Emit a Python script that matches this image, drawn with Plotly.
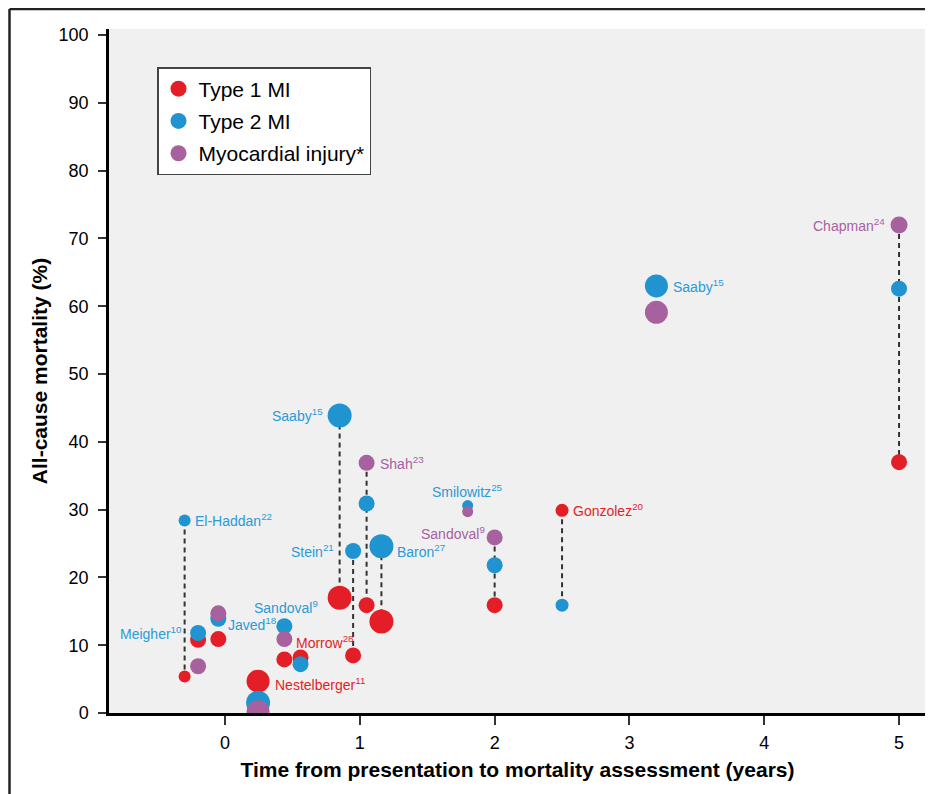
import plotly.graph_objects as go

# ---- data ----
t1_x = [-0.30, -0.20, -0.05, 0.245, 0.44, 0.56, 0.85, 0.95, 1.05, 1.16, 2.0, 2.5, 5.0]
t1_y = [5.4, 10.8, 10.9, 4.7, 7.9, 8.2, 17.0, 8.5, 15.9, 13.5, 15.9, 29.9, 37.0]
t1_s = [12, 16, 16, 23, 16, 16, 24, 16, 16, 24, 16, 13, 16]

t2_x = [-0.30, -0.20, -0.05, 0.245, 0.44, 0.56, 0.85, 0.95, 1.05, 1.16, 1.8, 2.0, 2.5, 3.2, 5.0]
t2_y = [28.4, 11.8, 13.9, 1.5, 12.8, 7.2, 43.9, 23.9, 30.9, 24.6, 30.6, 21.8, 15.9, 63.0, 62.6]
t2_s = [12, 16, 16, 24, 16, 16, 24, 16, 16, 24, 11, 16, 13, 23, 16]

mi_x = [-0.20, -0.05, 0.245, 0.44, 1.05, 1.8, 2.0, 3.2, 5.0]
mi_y = [6.9, 14.7, 0.2, 10.9, 36.9, 29.7, 25.9, 59.1, 72.0]
mi_s = [16, 16, 23, 16, 16, 11, 16, 23, 17]

link_x = [-0.30, 0.85, 0.95, 1.05, 1.16, 2.0, 2.5, 5.0]
link_top = [28.4, 43.9, 23.9, 36.9, 24.6, 25.9, 29.9, 72.0]
link_bot = [5.4, 17.0, 8.5, 15.9, 13.5, 15.9, 15.9, 37.0]

series_names = ["Type 1 MI", "Type 2 MI", "Myocardial injury*"]

# study labels: text, x, y, series index
lab_text = ["El-Haddan<sup>22</sup>", "Meigher<sup>10</sup>", "Javed<sup>18</sup>",
            "Sandoval<sup>9</sup>", "Morrow<sup>28</sup>", "Nestelberger<sup>11</sup>",
            "Saaby<sup>15</sup>", "Shah<sup>23</sup>", "Stein<sup>21</sup>",
            "Baron<sup>27</sup>", "Smilowitz<sup>25</sup>", "Sandoval<sup>9</sup>",
            "Gonzolez<sup>20</sup>", "Saaby<sup>15</sup>", "Chapman<sup>24</sup>"]
lab_x = [-0.30, -0.20, -0.05, 0.44, 0.56, 0.245, 0.85, 1.05, 0.95, 1.16, 1.8, 2.0, 2.5, 3.2, 5.0]
lab_y = [28.4, 11.8, 13.9, 12.8, 8.2, 4.7, 43.9, 36.9, 23.9, 24.6, 30.6, 25.9, 29.9, 63.0, 72.0]
lab_series = [1, 1, 1, 1, 0, 0, 1, 2, 1, 1, 1, 2, 0, 1, 2]

# ---- styles ----
colors = ["#e31e26", "#2094d0", "#a7619f"]
label_colors = ["#e31e26", "#2b9ad6", "#a7619f"]
lab_anchor = ["left", "right", "left", "center", "left", "left", "right", "left",
              "right", "left", "center", "right", "left", "left", "right"]
lab_dx = [8, -14, 8, 2, -7, 15, -15, 11, -17, 14, 0, -8, 9, 15, -12]
lab_dy = [0, 0, -5, 19, 15, -3, 0, 0, 0, -5, 15, 4, 0, 0, 0]

REG = "Liberation Sans, Arial, Helvetica, sans-serif"

fig = go.Figure()

# dashed connectors
lx, ly = [], []
for x, a, b in zip(link_x, link_top, link_bot):
    lx += [x, x, None]
    ly += [a, b, None]
fig.add_trace(go.Scatter(x=lx, y=ly, mode="lines", showlegend=False, hoverinfo="skip",
                         line=dict(color="#333333", width=2, dash="5px,4px")))

for i, (xs, ys, ss) in enumerate([(t1_x, t1_y, t1_s), (t2_x, t2_y, t2_s), (mi_x, mi_y, mi_s)]):
    fig.add_trace(go.Scatter(x=xs, y=ys, mode="markers", name=series_names[i],
                             legendgroup=str(i),
                             marker=dict(size=ss, color=colors[i], opacity=1,
                                         line=dict(width=0))))

for t, x, y, s, anc, dx, dy in zip(lab_text, lab_x, lab_y, lab_series, lab_anchor, lab_dx, lab_dy):
    fig.add_annotation(x=x, y=y, xref="x", yref="y", text=t, showarrow=False,
                       xanchor=anc, yanchor="middle", xshift=dx, yshift=dy,
                       font=dict(family=REG, size=14, color=label_colors[s]))

# outer frame (top and left edges)
fx0 = (9.5 - 109) / 817
fy1 = (713 - 9) / 684
fig.add_shape(type="line", xref="paper", yref="paper", x0=fx0, x1=1.2, y0=fy1, y1=fy1,
              line=dict(color="#222", width=2.5))
fig.add_shape(type="line", xref="paper", yref="paper", x0=fx0, x1=fx0, y0=-0.3, y1=fy1,
              line=dict(color="#222", width=2.5))

fig.update_layout(
    width=933, height=794,
    margin=dict(l=101, r=15, t=21, b=89, autoexpand=False),
    paper_bgcolor="white", plot_bgcolor="#f0f0f0",
    font=dict(family=REG, color="black"),
    showlegend=True,
    legend=dict(x=(157 - 109) / 817, y=(713 - 67) / 684, xanchor="left", yanchor="top",
                bgcolor="white", bordercolor="#444", borderwidth=1.5,
                font=dict(family=REG, size=21, color="black"),
                tracegroupgap=2, traceorder="grouped"),
    xaxis=dict(range=[-0.861, 5.2], tickvals=[0, 1, 2, 3, 4, 5], showgrid=False, zeroline=False,
               showline=True, linecolor="black", linewidth=2.5, ticks="outside", ticklen=9,
               tickwidth=1.5, tickcolor="#333", tickfont=dict(family=REG, size=18),
               automargin=False, ticklabelstandoff=3,
               title=dict(text="<b>Time from presentation to mortality assessment (years)</b>",
                          font=dict(family=REG, size=21), standoff=10)),
    yaxis=dict(range=[0, 100.9], dtick=10, showgrid=False, zeroline=False,
               showline=True, linecolor="black", linewidth=2.5, ticks="outside", ticklen=8,
               tickwidth=1.5, tickcolor="#333", tickfont=dict(family=REG, size=18),
               automargin=False, ticklabelstandoff=6,
               title=dict(text="<b>All-cause mortality (%)</b>",
                          font=dict(family=REG, size=21), standoff=6)),
)

fig.write_html("out.html")
